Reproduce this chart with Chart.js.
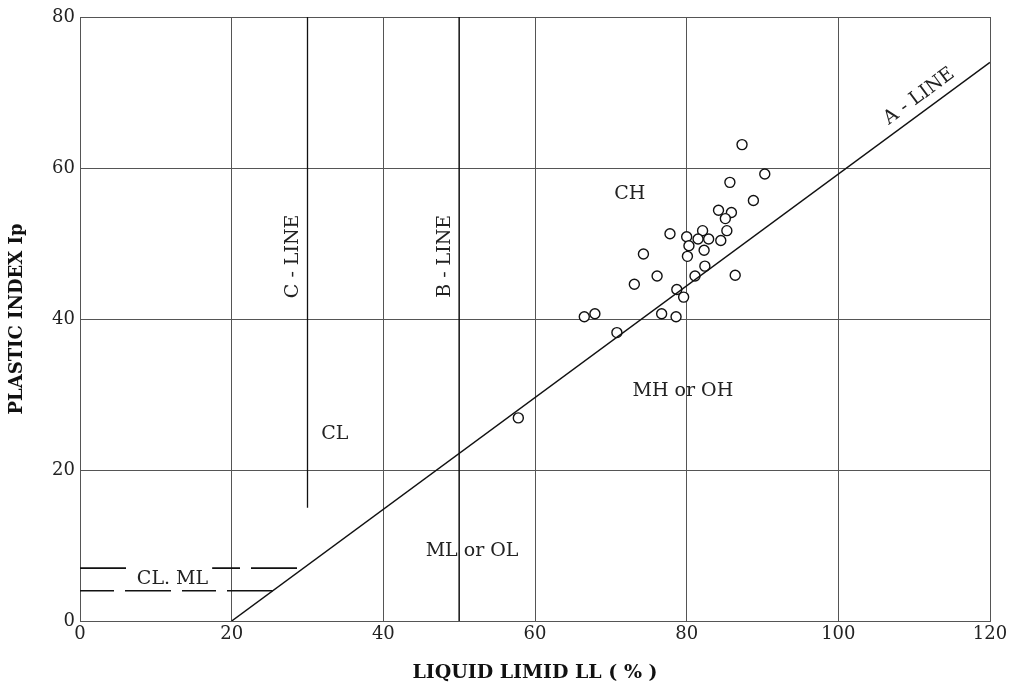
<!DOCTYPE html>
<html>
<head>
<meta charset="utf-8">
<script src="https://cdn.jsdelivr.net/npm/chart.js@4.4.0/dist/chart.umd.min.js"></script>
<style>
  body { margin: 0; background: #fff; }
  #wrap { width: 1020px; height: 692px; }
</style>
</head>
<body>
<div id="wrap"><canvas id="chart-plasticidad" width="1020" height="692"></canvas></div>
<script>
// muestras: limite liquido (LL) e indice plastico (Ip)
const limiteLiquido = [87.3, 90.3, 85.7, 88.8, 84.2, 85.9, 85.1, 85.3, 82.1, 77.8,
                       80.0, 81.5, 82.9, 84.5, 80.3, 82.3, 74.3, 80.1, 82.4, 76.1,
                       81.1, 86.4, 73.1, 78.7, 79.6, 66.5, 67.9, 76.7, 78.6, 70.8, 57.8];
const indicePlastico = [63.1, 59.2, 58.1, 55.7, 54.4, 54.1, 53.3, 51.7, 51.7, 51.3,
                        50.9, 50.6, 50.6, 50.4, 49.7, 49.1, 48.6, 48.3, 47.0, 45.7,
                        45.7, 45.8, 44.6, 43.9, 42.9, 40.3, 40.7, 40.7, 40.3, 38.2, 26.9];

// lineas de la carta de plasticidad
const lineaA = [{x: 20, y: 0}, {x: 120, y: 74}];
const lineaB = [{x: 50, y: 0}, {x: 50, y: 80}];
const lineaC = [{x: 30, y: 15}, {x: 30, y: 80}];
const limiteCLML7 = [{x: 0, y: 7}, {x: 29.5, y: 7}];
const limiteCLML4 = [{x: 0, y: 4}, {x: 25.4, y: 4}];

const ticksX = [0, 20, 40, 60, 80, 100, 120];
const ticksY = [0, 20, 40, 60, 80];

// textos de zonas (x, y en unidades de la carta)
const zonas = [
  {text: 'CH', x: 72.5, y: 56.6},
  {text: 'MH or OH', x: 79.5, y: 30.4},
  {text: 'CL', x: 33.6, y: 24.8},
  {text: 'ML or OL', x: 51.7, y: 9.2},
  {text: 'CL. ML', x: 12.2, y: 5.5, fondo: true},
  {text: 'C - LINE', x: 28.1, y: 48.3, rot: -90},
  {text: 'B - LINE', x: 48.1, y: 48.3, rot: -90}
];

const puntos = limiteLiquido.map((v, i) => ({x: v, y: indicePlastico[i]}));

const fuente = "'DejaVu Serif', 'Liberation Serif', serif";

const textosPlugin = {
  id: 'textos',
  afterDatasetsDraw(chart) {
    const {ctx, scales: {x, y}} = chart;
    ctx.save();
    ctx.font = `19px ${fuente}`;
    ctx.fillStyle = '#222';
    ctx.textAlign = 'center';
    ctx.textBaseline = 'middle';
    zonas.forEach(z => {
      const px = x.getPixelForValue(z.x);
      const py = y.getPixelForValue(z.y);
      ctx.save();
      ctx.translate(px, py);
      if (z.rot) ctx.rotate(z.rot * Math.PI / 180);
      if (z.fondo) {
        const w = ctx.measureText(z.text).width;
        ctx.fillStyle = '#fff';
        ctx.fillRect(-w / 2 - 4, -13, w + 8, 19);
        ctx.fillStyle = '#222';
      }
      ctx.fillText(z.text, 0, 0);
      ctx.restore();
    });
    // texto sobre la linea A
    const p1x = x.getPixelForValue(lineaA[0].x), p1y = y.getPixelForValue(lineaA[0].y);
    const p2x = x.getPixelForValue(lineaA[1].x), p2y = y.getPixelForValue(lineaA[1].y);
    const ang = Math.atan2(p2y - p1y, p2x - p1x);
    const t = 0.918;
    ctx.translate(p1x + (p2x - p1x) * t, p1y + (p2y - p1y) * t);
    ctx.rotate(ang);
    ctx.textBaseline = 'bottom';
    ctx.fillText('A - LINE', 0, -5);
    ctx.restore();
  }
};

const linea = (data, extra) => Object.assign({
  type: 'line',
  data: data,
  borderColor: '#111',
  borderWidth: 1.5,
  pointRadius: 0,
  fill: false,
  tension: 0
}, extra);

const ctx = document.getElementById('chart-plasticidad');
new Chart(ctx, {
  type: 'scatter',
  data: {
    datasets: [
      linea(lineaA, {label: 'A - LINE'}),
      linea(lineaB, {label: 'B - LINE'}),
      linea(lineaC, {label: 'C - LINE', borderWidth: 1.3}),
      linea(limiteCLML7, {label: 'CL-ML 7', borderDash: [46, 11], borderWidth: 1.6}),
      linea(limiteCLML4, {label: 'CL-ML 4', borderDash: [34, 11, 46, 11], borderWidth: 1.6}),
      {
        label: 'Muestras',
        data: puntos,
        pointRadius: 5,
        pointBorderWidth: 1.4,
        pointBackgroundColor: '#fff',
        pointBorderColor: '#111'
      }
    ]
  },
  options: {
    responsive: false,
    animation: false,
    layout: { padding: { top: 17, right: 30 } },
    plugins: { legend: { display: false }, tooltip: { enabled: false } },
    scales: {
      x: {
        type: 'linear', min: 0, max: 120,
        afterBuildTicks: s => { s.ticks = ticksX.map(v => ({value: v})); },
        afterFit: s => { s.height = 71; },
        grid: { color: '#555', lineWidth: 1, drawTicks: false },
        border: { color: '#555', width: 1 },
        ticks: { padding: 3, color: '#222', font: { family: fuente, size: 18 } },
        title: {
          display: true, text: 'LIQUID LIMID LL ( % )', color: '#111',
          font: { family: fuente, size: 19, weight: 'bold' },
          padding: { top: 0, bottom: 8 }
        }
      },
      y: {
        type: 'linear', min: 0, max: 80,
        afterBuildTicks: s => { s.ticks = ticksY.map(v => ({value: v})); },
        afterFit: s => { s.width = 80; },
        grid: { color: '#555', lineWidth: 1, drawTicks: false },
        border: { color: '#555', width: 1 },
        ticks: { padding: 5, color: '#222', font: { family: fuente, size: 18 } },
        title: {
          display: true, text: 'PLASTIC INDEX Ip', color: '#111',
          font: { family: fuente, size: 18, weight: 'bold' },
          padding: { top: 7, bottom: 0 }
        }
      }
    }
  },
  plugins: [textosPlugin]
});
</script>
</body>
</html>
